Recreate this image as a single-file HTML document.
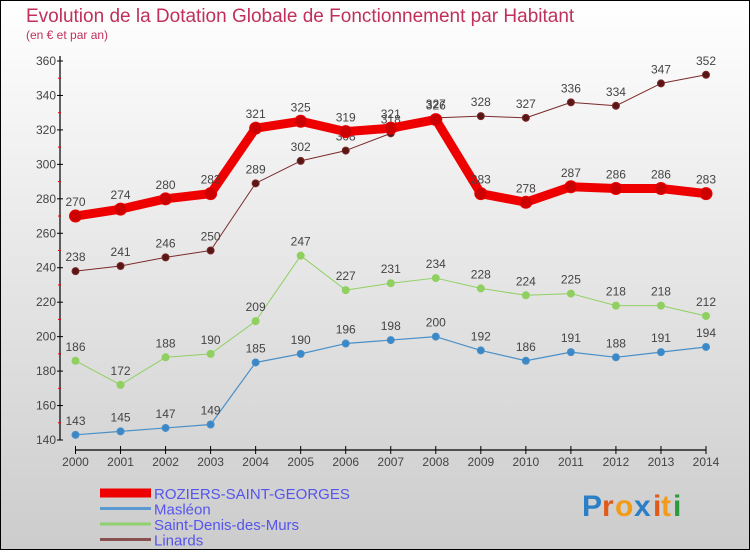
<!DOCTYPE html>
<html><head><meta charset="utf-8"><style>
html,body{margin:0;padding:0}
body{width:750px;height:550px;overflow:hidden;font-family:"Liberation Sans",sans-serif}
</style></head><body>
<svg id="chart" width="750" height="550" xmlns="http://www.w3.org/2000/svg">
<defs><linearGradient id="bg" x1="0" y1="0" x2="0" y2="1"><stop offset="0" stop-color="#ffffff"/><stop offset="1" stop-color="#cccccc"/></linearGradient></defs>
<rect x="0.5" y="0.5" width="749" height="549" fill="url(#bg)" stroke="#000" stroke-width="1"/>
<text x="26" y="22" font-size="19" fill="#c0305a">Evolution de la Dotation Globale de Fonctionnement par Habitant</text>
<text x="26" y="39" font-size="12" fill="#c0305a">(en € et par an)</text>
<g id="axes"></g><g id="series"></g><g id="legend"></g>
<g font-size="30" font-weight="bold" font-family="'Liberation Sans',sans-serif">
<text x="582" y="516" fill="#2a7fc6">P</text><text x="602" y="516" fill="#e05a1a">r</text><text x="615" y="516" fill="#f29a1a">o</text><text x="634" y="516" fill="#2a7fc6">x</text><text x="653" y="516" fill="#e05a1a">i</text><text x="661" y="516" fill="#f29a1a">t</text><text x="673" y="516" fill="#2a9a3a">i</text>
</g>
</svg>
<script>
const years=[2000,2001,2002,2003,2004,2005,2006,2007,2008,2009,2010,2011,2012,2013,2014];
const yTicks=[140,160,180,200,220,240,260,280,300,320,340,360];
const roziers=[270,274,280,283,321,325,319,321,326,283,278,287,286,286,283];
const masleon=[143,145,147,149,185,190,196,198,200,192,186,191,188,191,194];
const saintDenis=[186,172,188,190,209,247,227,231,234,228,224,225,218,218,212];
const linards=[238,241,246,250,289,302,308,318,327,328,327,336,334,347,352];
const seriesNames=["ROZIERS-SAINT-GEORGES","Masléon","Saint-Denis-des-Murs","Linards"];
const NS="http://www.w3.org/2000/svg";
const xS=i=>75.5+i*(706-75.5)/14;
const yS=v=>440-(v-140)*(440-61)/220;
function mk(t,a,p){const e=document.createElementNS(NS,t);for(const k in a)e.setAttribute(k,a[k]);p.appendChild(e);return e;}
const ax=document.getElementById('axes');
let yl=mk('line',{x1:60,y1:56,x2:60,y2:440,stroke:'#000','stroke-width':1.2},ax);


let xl=mk('line',{x1:75,y1:450,x2:706,y2:450,stroke:'#000','stroke-width':1.2},ax);


yTicks.forEach((v,i)=>{
  mk('line',{x1:57,x2:63,y1:yS(v),y2:yS(v),stroke:'#000'},ax);
  if(i<yTicks.length-1){mk('line',{x1:58,x2:61,y1:yS(v+10),y2:yS(v+10),stroke:'#e00'},ax);}
  const t=mk('text',{x:56,y:yS(v)+4,'font-size':12,'text-anchor':'end',fill:'#444'},ax);
  t.textContent=v;
  
  
});
years.forEach((y,i)=>{
  mk('line',{x1:xS(i),x2:xS(i),y1:446,y2:454,stroke:'#000'},ax);
  const t=mk('text',{x:xS(i),y:466,'font-size':12,'text-anchor':'middle',fill:'#444'},ax);
  t.textContent=y;
  
  
});
const sg=document.getElementById('series');
function draw(data,name,color,lw,r,dot,lblColor){
  const g=mk('g',{},sg);
  
  
  const pts=data.map((v,i)=>xS(i)+','+yS(v)).join(' ');
  mk('polyline',{points:pts,fill:'none',stroke:color,'stroke-width':lw,'stroke-linejoin':'round'},g);
  data.forEach((v,i)=>{
    const c=mk('circle',{cx:xS(i),cy:yS(v),r:r,fill:dot,stroke:color,'stroke-width':1},g);
    
    
    const t=mk('text',{x:xS(i),y:yS(v)-10,'font-size':12,'text-anchor':'middle',fill:'#444'},g);
    t.textContent=v;
  });
}
draw(linards,'linards-series','#7a2a2a',1,3.5,'#5a1515');
draw(saintDenis,'saint-denis-series','#8fd060',1,3.5,'#8fd060');
draw(masleon,'masleon-series','#4a90c8',1.2,3.5,'#3a88c8');
draw(roziers,'roziers-series','#ee0000',9,6,'#cc0000');
const lg=document.getElementById('legend');
const lc=['#ee0000','#5a9ad0','#90d070','#8a5050'];const lw=[9,3,3,3];
seriesNames.forEach((n,i)=>{
  const y=493+i*15.5;
  const g=mk('g',{},lg);
  
  
  mk('line',{x1:100,x2:151,y1:y,y2:y,stroke:lc[i],'stroke-width':lw[i]},g);
  const t=mk('text',{x:154,y:y+6,'font-size':15,fill:'#5555ee'},g);t.textContent=n;
});
</script>
</body></html>
